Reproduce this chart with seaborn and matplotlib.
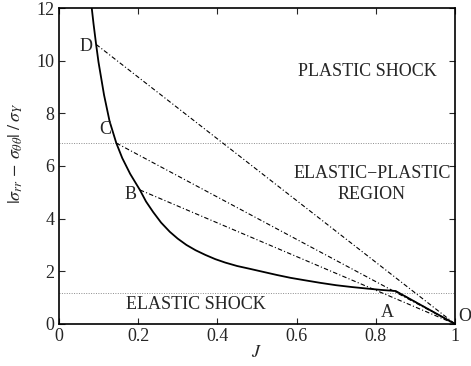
import numpy as np
import pandas as pd
import seaborn as sns
import matplotlib
matplotlib.use("Agg")
import matplotlib.pyplot as plt

# shock curve
J = [0.083, 0.0875, 0.094, 0.100, 0.114, 0.128, 0.145, 0.160, 0.180, 0.2045,
     0.220, 0.238, 0.258, 0.280, 0.300, 0.322, 0.345, 0.370, 0.395, 0.420,
     0.450, 0.480, 0.515, 0.550, 0.585, 0.620, 0.660, 0.700, 0.740, 0.780,
     0.815, 0.850, 1.0]
stress = [12.0, 11.4, 10.62, 9.95, 8.7, 7.7, 6.87, 6.3, 5.7, 5.09,
          4.65, 4.25, 3.85, 3.5, 3.24, 3.0, 2.8, 2.62, 2.46, 2.33,
          2.2, 2.1, 1.98, 1.86, 1.75, 1.66, 1.56, 1.47, 1.4, 1.34,
          1.29, 1.25, 0.0]

# points joined to O by chords
pt_names = ["D", "C", "B", "A"]
pt_J = [0.094, 0.145, 0.2045, 0.850]
pt_s = [10.62, 6.87, 5.09, 1.25]
O = (1.0, 0.0)

levels = [6.87, 1.19]

sns.set_style("ticks")
plt.rcParams["font.family"] = ["Liberation Serif", "DejaVu Serif"]
plt.rcParams["mathtext.fontset"] = "stix"

fig = plt.figure(figsize=(4.71, 3.66), dpi=100)
ax = fig.add_axes([0.125, 0.115, 0.841, 0.863])

for lv in levels:
    ax.axhline(lv, color="0.55", ls=(0, (1, 1.5)), lw=0.7)

for nm, xj, ys in zip(pt_names, pt_J, pt_s):
    seg = pd.DataFrame({"J": [xj, O[0]], "s": [ys, O[1]]})
    sns.lineplot(data=seg, x="J", y="s", ax=ax, color="black", lw=0.8,
                 linestyle=(0, (4, 2, 1, 2)))

curve = pd.DataFrame({"J": J, "s": stress})
sns.lineplot(data=curve, x="J", y="s", sort=False, ax=ax, color="black", lw=1.3)

fs = 13
# point labels
lab_pos = {"D": (0.068, 10.55), "C": (0.118, 7.37), "B": (0.18, 4.9), "A": (0.83, 0.42)}
for nm, (lx, ly) in lab_pos.items():
    ax.text(lx, ly, nm, fontsize=fs, ha="center", va="center")
ax.text(1.008, 0.28, "O", fontsize=fs, ha="left", va="center", clip_on=False)

ax.text(0.778, 9.6, "PLASTIC SHOCK", fontsize=fs, ha="center", va="center")
ax.text(0.79, 5.73, "ELASTIC\u2212PLASTIC", fontsize=fs, ha="center", va="center")
ax.text(0.79, 4.9, "REGION", fontsize=fs, ha="center", va="center")
ax.text(0.347, 0.72, "ELASTIC SHOCK", fontsize=fs, ha="center", va="center")

ax.set_xlim(0, 1)
ax.set_ylim(0, 12)
ax.set_xticks([0, 0.2, 0.4, 0.6, 0.8, 1])
ax.set_xticklabels(["0", "0.2", "0.4", "0.6", "0.8", "1"])
ax.set_yticks(range(0, 13, 2))
ax.tick_params(direction="in", top=True, right=True, labelsize=fs, length=4,
               width=0.8, pad=3)
for sp in ax.spines.values():
    sp.set_visible(True)
    sp.set_linewidth(1.2)
    sp.set_color("black")

ax.set_xlabel(r"$J$", fontsize=13, labelpad=-1)
ax.set_ylabel(r"$|\sigma_{rr}\,-\,\sigma_{\theta\theta}|\;/\;\sigma_Y$", fontsize=13)
ax.yaxis.set_label_coords(-0.085, 0.54)

fig.savefig("out.png", dpi=100)
